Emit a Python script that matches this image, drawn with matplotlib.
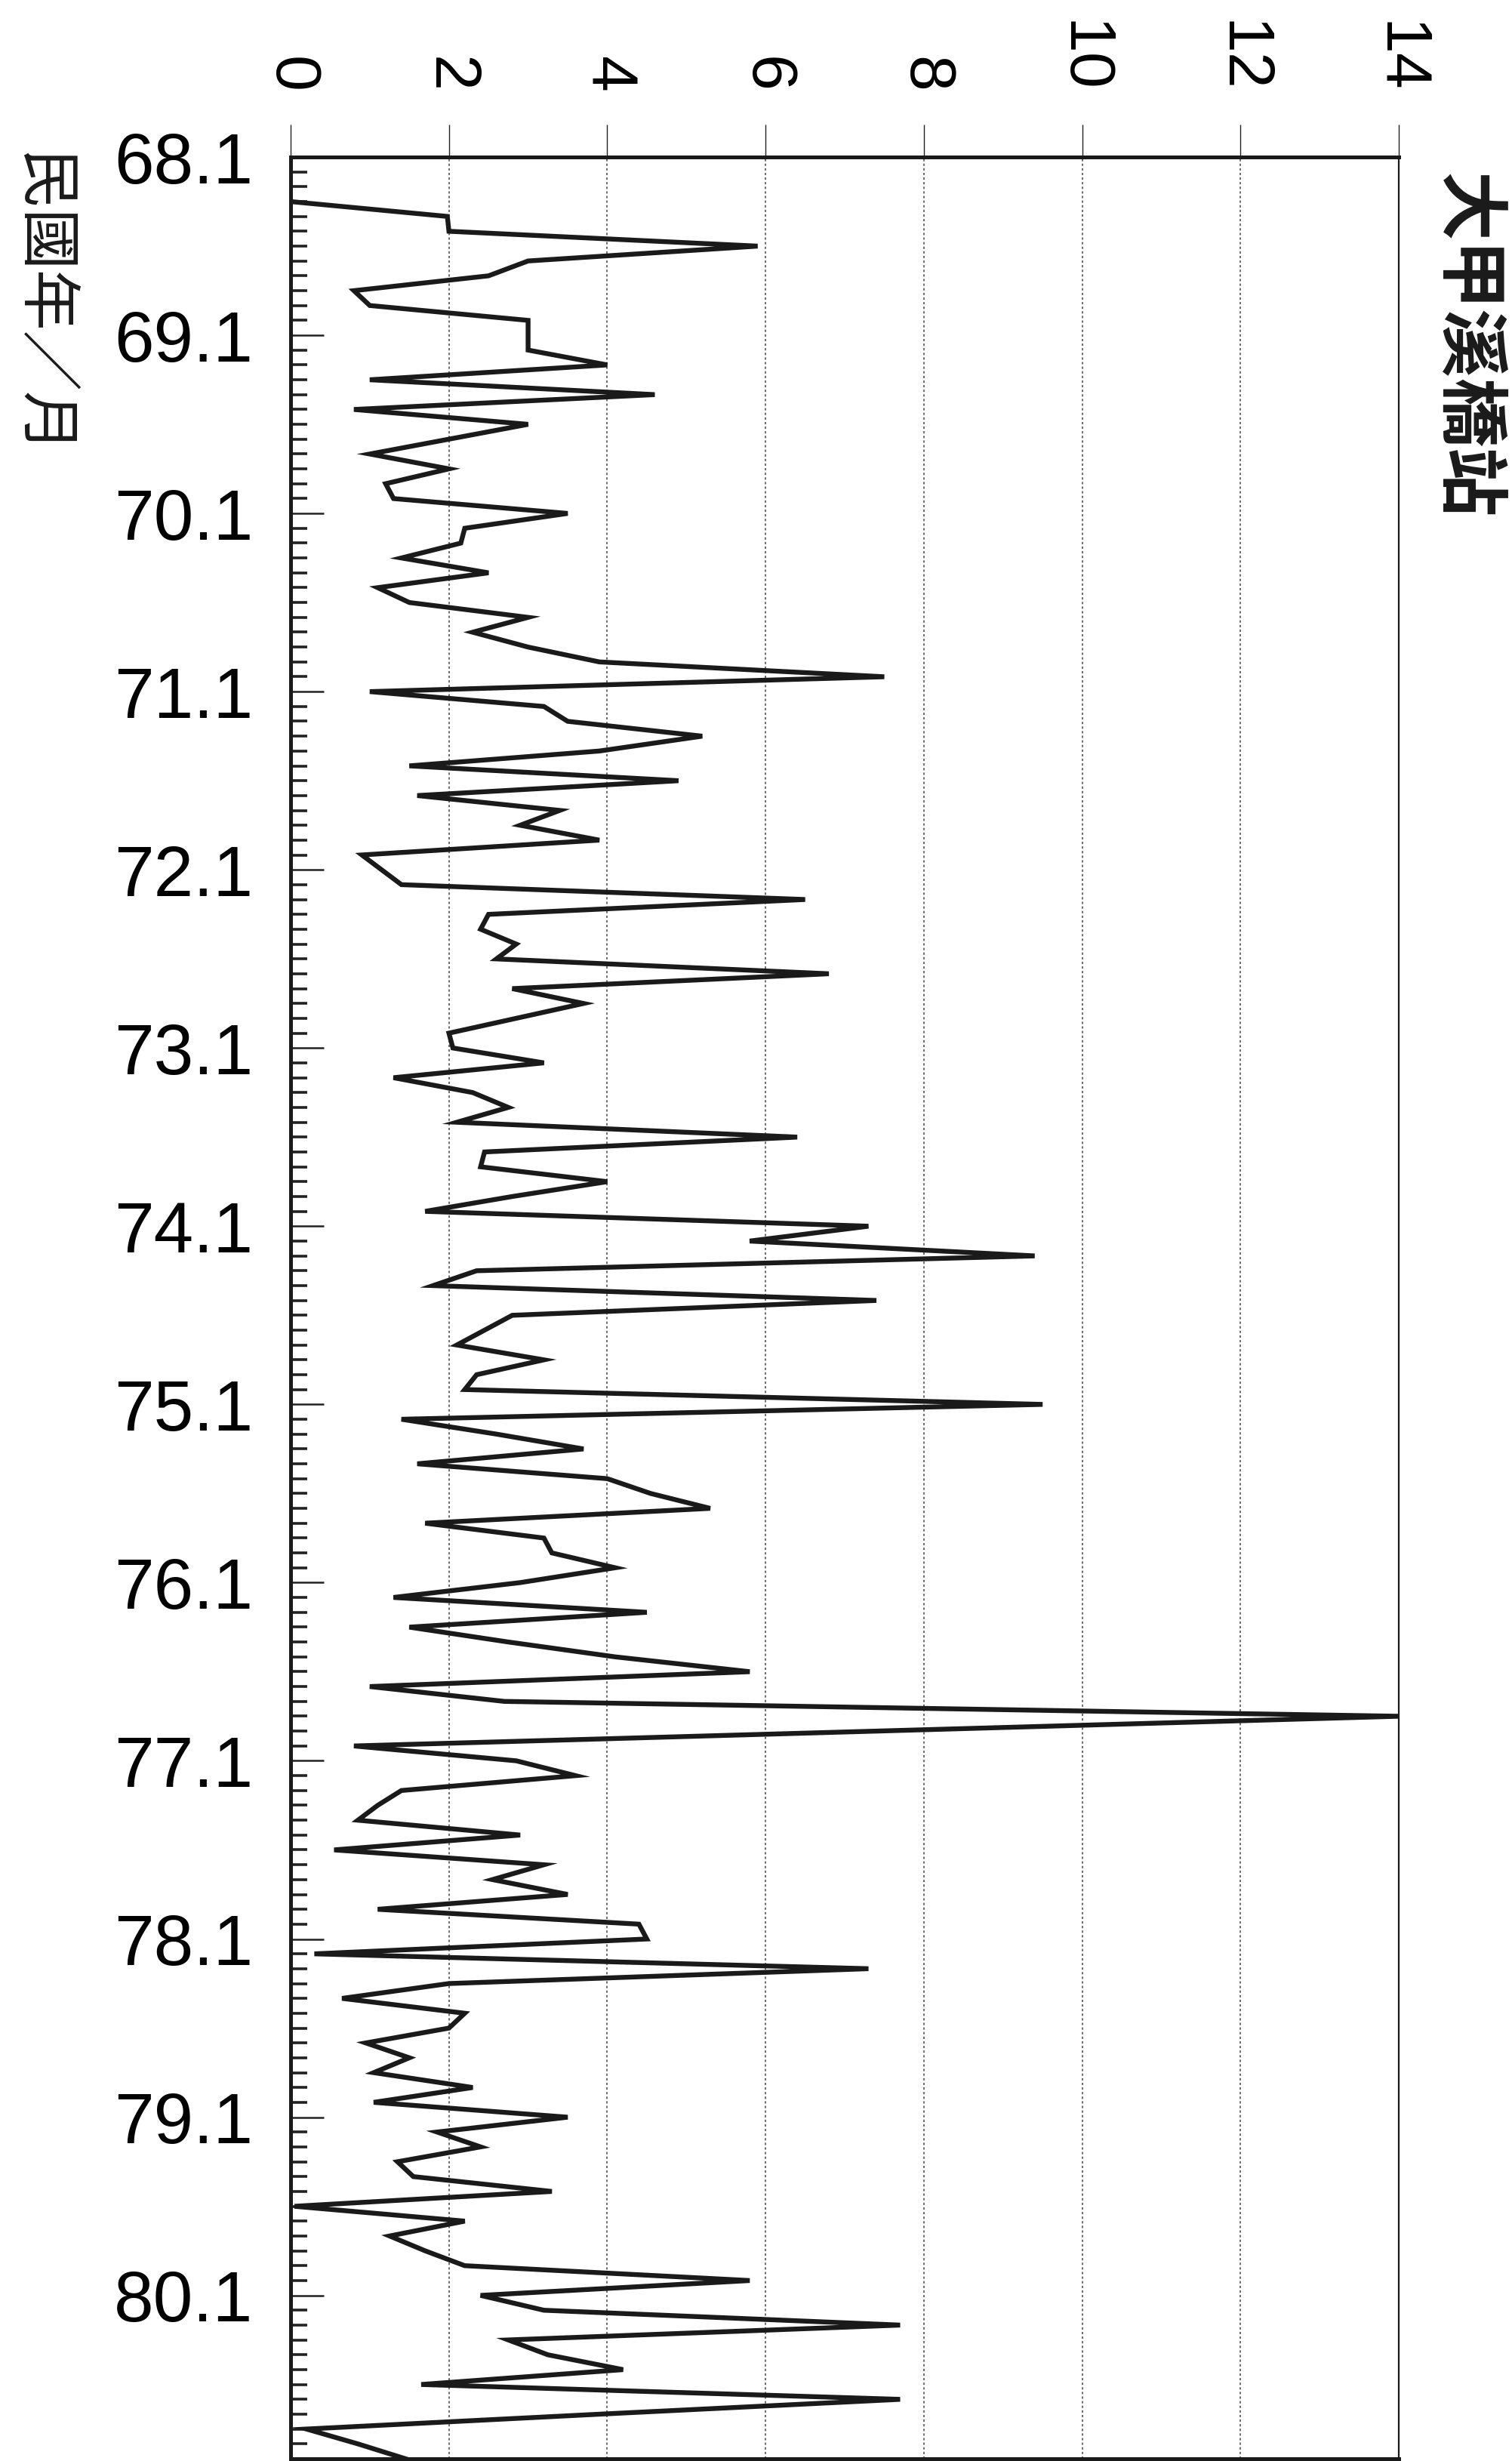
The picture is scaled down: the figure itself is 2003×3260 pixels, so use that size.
import numpy as np
import matplotlib
matplotlib.use("Agg")
import matplotlib.pyplot as plt
from matplotlib.ticker import MultipleLocator

# monthly values, 民國 68.1 - 80.12 (first three months have no data)
y68 = [np.nan, np.nan, np.nan, 0.0, 1.98, 2.0, 5.9, 3.0, 2.5, 0.8, 1.0, 3.0]
y69 = [3.0, 3.0, 4.0, 1.0, 4.6, 0.8, 3.0, 2.0, 1.0, 2.0, 1.2, 1.3]
y70 = [3.5, 2.2, 2.15, 1.4, 2.5, 1.1, 1.5, 3.0, 2.3, 3.0, 3.9, 7.5]
y71 = [1.0, 3.2, 3.5, 5.2, 3.9, 1.5, 4.9, 1.6, 3.4, 2.9, 3.9, 0.9]
y72 = [1.15, 1.4, 6.5, 2.5, 2.4, 2.85, 2.6, 6.8, 2.8, 3.7, 2.85, 2.0]
y73 = [2.05, 3.2, 1.3, 2.3, 2.75, 2.1, 6.4, 2.45, 2.4, 4.0, 2.8, 1.7]
y74 = [7.3, 5.8, 9.4, 2.35, 1.8, 7.4, 2.8, 2.45, 2.1, 3.2, 2.35, 2.2]
y75 = [9.5, 1.4, 2.6, 3.7, 1.6, 4.0, 4.55, 5.3, 1.7, 3.2, 3.3, 4.1]
y76 = [2.9, 1.3, 4.5, 1.5, 2.75, 4.1, 5.8, 1.0, 2.7, 14.0, 7.4, 0.8]
y77 = [2.85, 3.6, 1.4, 1.1, 0.85, 2.9, 0.55, 3.2, 2.55, 3.5, 1.1, 4.4]
y78 = [4.5, 0.3, 7.3, 2.0, 0.65, 2.2, 2.0, 0.95, 1.5, 1.05, 2.3, 1.05]
y79 = [3.5, 1.85, 2.4, 1.35, 1.55, 3.3, 0.05, 2.2, 1.25, 1.7, 2.2, 5.8]
y80 = [2.4, 3.2, 7.7, 2.75, 3.25, 4.2, 1.65, 7.7, 3.9, 0.2, 0.85, 1.45]

years = [68, 69, 70, 71, 72, 73, 74, 75, 76, 77, 78, 79, 80]
year_labels = [f"{y}.1" for y in years]
value_ticks = [0, 2, 4, 6, 8, 10, 12, 14]

title = "大甲溪橋站"
time_label = "民國年／月"

values = np.array(y68 + y69 + y70 + y71 + y72 + y73 + y74 + y75 + y76
                  + y77 + y78 + y79 + y80)
months = np.arange(len(values))

W, H = 2003, 3260
fig = plt.figure(figsize=(W / 100, H / 100), dpi=100)
fig.patch.set_facecolor("white")

left, right, top, bottom = 385, 1853, 208, 3257
ax = fig.add_axes([left / W, 1 - bottom / H, (right - left) / W, (bottom - top) / H])

ax.plot(values, months, color="#1a1a1a", linewidth=4.6, solid_joinstyle="miter")

ax.set_xlim(0, 14)
ax.set_ylim(len(values) - 1, 0)

ax.xaxis.tick_top()
ax.set_xticks(value_ticks)
ax.set_xticklabels([str(v) for v in value_ticks], rotation=-90,
                   fontsize=62, family="Liberation Sans")
ax.tick_params(axis="x", direction="out", length=31, width=1.0, pad=30,
               color="#222222")

ax.set_yticks(np.arange(0, len(values), 12))
ax.set_yticklabels(year_labels, fontsize=68, family="Liberation Sans")
ax.yaxis.set_minor_locator(MultipleLocator(1))
ax.tick_params(axis="y", which="major", direction="in", length=32, width=1.8,
               pad=36, color="#222222")
ax.tick_params(axis="y", which="minor", direction="in", length=16, width=2.6,
               color="#222222")
ax.tick_params(right=False, bottom=False)

ax.xaxis.grid(True, linestyle=(0, (2, 2)), linewidth=1.1, color="#444444")

for side in ["left", "top", "bottom"]:
    ax.spines[side].set_linewidth(3.6)
    ax.spines[side].set_color("#1a1a1a")
ax.spines["right"].set_linewidth(1.6)
ax.spines["right"].set_color("#1a1a1a")

fig.text(1943 / W, 1 - 458 / H, title, rotation=-90, ha="center", va="center",
         fontsize=66, fontweight="bold", family=["Noto Sans CJK TC", "DejaVu Sans"],
         color="#1a1a1a")
fig.text(56 / W, 1 - 402 / H, time_label, rotation=-90, ha="center", va="center",
         fontsize=58, fontweight="medium", family=["Noto Sans CJK TC", "DejaVu Sans"],
         color="#1a1a1a")

fig.savefig("out.png", dpi=100, facecolor="white")
